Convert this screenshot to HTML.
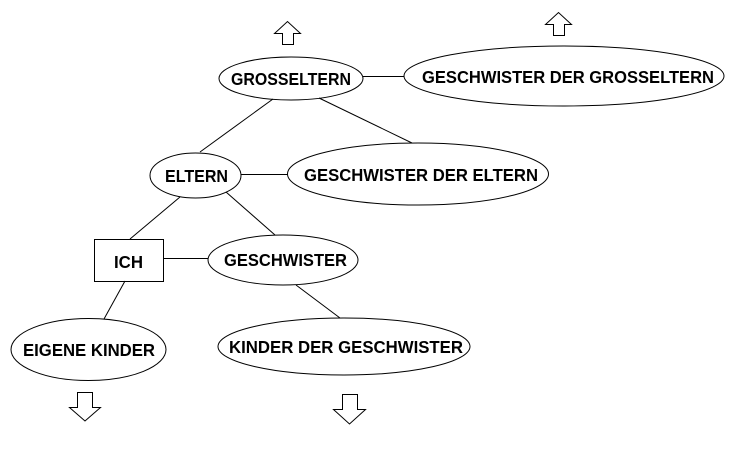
<!DOCTYPE html>
<html><head><meta charset="utf-8"><style>html,body{margin:0;padding:0;background:#fff}svg{display:block}</style></head>
<body>
<svg width="732" height="453" xmlns="http://www.w3.org/2000/svg" font-family="Liberation Sans, Arial, sans-serif" font-weight="bold" font-size="17.5">
<g fill="none" stroke="#000" stroke-width="1">
<ellipse cx="291" cy="78.5" rx="72" ry="21.5"/>
<ellipse cx="564" cy="76" rx="160" ry="30"/>
<ellipse cx="195.5" cy="175.5" rx="45.5" ry="22.5"/>
<ellipse cx="418" cy="174" rx="130.5" ry="31"/>
<rect x="94.5" y="239.5" width="69" height="42"/>
<ellipse cx="283" cy="260" rx="75" ry="25"/>
<ellipse cx="344" cy="346.5" rx="126" ry="28.5"/>
<ellipse cx="88.5" cy="349.5" rx="77.5" ry="31"/>
<line x1="363" y1="76.5" x2="404" y2="76.5"/>
<line x1="273" y1="99" x2="200" y2="152"/>
<line x1="319" y1="98" x2="412" y2="143"/>
<line x1="241" y1="174.5" x2="288" y2="174.5"/>
<line x1="180" y1="197" x2="130" y2="239"/>
<line x1="226" y1="192" x2="275" y2="235"/>
<line x1="163" y1="258.5" x2="208" y2="258.5"/>
<line x1="296" y1="285" x2="340" y2="318"/>
<line x1="125" y1="281" x2="104" y2="319"/>
<polygon points="282.5,44.5 293.5,44.5 293.5,33.5 300.5,33.5 287.5,21.5 274.5,33.5 282.5,33.5"/>
<polygon points="553.5,35.5 564.5,35.5 564.5,24.5 571.5,24.5 558.5,12.5 545.5,24.5 553.5,24.5"/>
<polygon points="77.5,392.5 92.5,392.5 92.5,407.5 100.5,407.5 85,421 69.5,407.5 77.5,407.5"/>
<polygon points="342.5,394.5 357.5,394.5 357.5,409.5 365.5,409.5 349.5,424 333.5,409.5 342.5,409.5"/>
</g>
<g fill="#000">
<text x="231" y="85" textLength="120" lengthAdjust="spacingAndGlyphs">GROSSELTERN</text>
<text x="422" y="83" textLength="292" lengthAdjust="spacingAndGlyphs">GESCHWISTER DER GROSSELTERN</text>
<text x="165" y="182" textLength="63" lengthAdjust="spacingAndGlyphs">ELTERN</text>
<text x="304" y="181" textLength="234" lengthAdjust="spacingAndGlyphs">GESCHWISTER DER ELTERN</text>
<text x="114" y="268" textLength="29" lengthAdjust="spacingAndGlyphs">ICH</text>
<text x="224" y="266" textLength="123" lengthAdjust="spacingAndGlyphs">GESCHWISTER</text>
<text x="229" y="353" textLength="234" lengthAdjust="spacingAndGlyphs">KINDER DER GESCHWISTER</text>
<text x="23" y="356" textLength="132" lengthAdjust="spacingAndGlyphs">EIGENE KINDER</text>
</g>
</svg>
</body></html>
